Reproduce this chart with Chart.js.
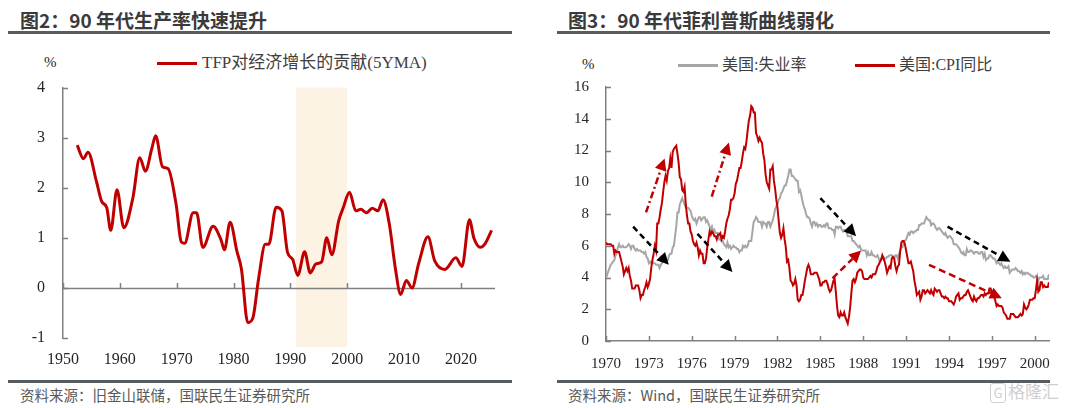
<!DOCTYPE html>
<html>
<head>
<meta charset="utf-8">
<script src="https://cdn.jsdelivr.net/npm/chart.js@4.4.1/dist/chart.umd.min.js"></script>
<style>
    body { margin: 0; width: 1080px; height: 408px; background: #fff; position: relative; overflow: hidden; font-family: "Noto Sans CJK SC", sans-serif; }
    .abs { position: absolute; white-space: nowrap; }
    .title { top: 10px; font-size: 19px; line-height: 19px; font-weight: bold; color: #3a3a3a; }
    .rule { height: 3px; background: #575c61; }
    .source { top: 388px; font-size: 14.5px; line-height: 14.5px; color: #595959; }
    .legend { font-family: "Liberation Serif", "Noto Sans CJK SC", serif; color: #404040; }
    .unit { font-family: "Liberation Serif", serif; font-size: 15px; line-height: 15px; color: #262626; }
    .swatch { height: 2.5px; width: 40px; }
    .mark { top: 382px; left: 990px; color: #cfcfcf; font-size: 17px; line-height: 18px; }
    .mark b { display: inline-block; border: 1.5px solid #cfcfcf; border-radius: 3px; font-weight: normal; width: 14px; text-align: center; margin-right: 2px; font-size: 13px; }
</style>
</head>
<body>
<div class="abs title" style="left:20px">图2：90 年代生产率快速提升</div>
<div class="abs title" style="left:568px">图3：90 年代菲利普斯曲线弱化</div>
<div class="abs rule" style="left:8px;width:504px;top:31px"></div>
<div class="abs rule" style="left:557px;width:493px;top:31px"></div>

<div class="abs unit" style="left:44px;top:55px">%</div>
<div class="abs swatch" style="left:157px;top:62px;background:#c00000"></div>
<div class="abs legend" style="left:202px;top:54px;font-size:17px;line-height:17px">TFP对经济增长的贡献(5YMA)</div>

<div class="abs unit" style="left:582px;top:57px">%</div>
<div class="abs swatch" style="left:678px;top:64px;background:#a6a6a6"></div>
<div class="abs legend" style="left:722px;top:57px;font-size:16px;line-height:16px">美国:失业率</div>
<div class="abs swatch" style="left:855px;top:64px;background:#c00000"></div>
<div class="abs legend" style="left:899px;top:57px;font-size:16px;line-height:16px">美国:CPI同比</div>

<canvas id="tfp-chart" class="abs" style="left:0;top:60px" width="520" height="310"></canvas>
<canvas id="phillips-chart" class="abs" style="left:540px;top:60px" width="540" height="310"></canvas>

<div class="abs rule" style="left:8px;width:504px;top:380px"></div>
<div class="abs rule" style="left:557px;width:493px;top:380px"></div>
<div class="abs source" style="left:20px">资料来源：旧金山联储，国联民生证券研究所</div>
<div class="abs source" style="left:568px">资料来源：Wind，国联民生证券研究所</div>
<div class="abs mark"><b>G</b>格隆汇</div>

<script>
// 图2: TFP contribution to growth, 5-year moving average (%)
const tfpYears = [
    1952.5, 1953.6, 1954.4, 1955.9, 1956.8, 1957.7, 1958.4, 1959.5, 1960.7, 1962.3,
    1963.5, 1964.5, 1965.6, 1966.3, 1967.5, 1968.5, 1969.9, 1970.8, 1971.4, 1972.9,
    1973.5, 1974.6, 1976.4, 1977.8, 1978.4, 1979.4, 1980.6, 1981.4, 1982.5, 1983.4,
    1984.4, 1985.6, 1986.2, 1987.5, 1988.5, 1989.5, 1990.4, 1991.3, 1992.5, 1993.5,
    1994.5, 1995.5, 1996.4, 1997.3, 1998.5, 1999.3, 2000.4, 2001.5, 2002.4, 2003.4,
    2004.4, 2005.4, 2006.3, 2007.4, 2008.5, 2009.4, 2010.4, 2011.4, 2012.6, 2014.2,
    2015.4, 2017.2, 2019.1, 2020.2, 2021.5, 2022.3, 2023.4, 2024.3, 2025.4,
];
const tfpValues = [
    2.85, 2.58, 2.71, 2.12, 1.73, 1.6, 1.15, 1.96, 1.2, 1.8,
    2.6, 2.33, 2.77, 3.04, 2.42, 2.38, 1.67, 0.92, 0.89, 1.5,
    1.5, 0.81, 1.23, 0.96, 0.76, 1.31, 0.73, 0.37, -0.69, -0.6,
    0.18, 0.87, 0.87, 1.61, 1.54, 0.71, 0.57, 0.25, 0.72, 0.3,
    0.48, 0.52, 1.0, 0.66, 1.34, 1.6, 1.91, 1.54, 1.57, 1.5,
    1.59, 1.54, 1.76, 1.28, 0.37, -0.13, 0.15, 0.0, 0.5, 1.02,
    0.54, 0.37, 0.6, 0.43, 1.36, 0.99, 0.81, 0.89, 1.15,
];
const tfpTickYears = [1950, 1960, 1970, 1980, 1990, 2000, 2010, 2020];
const tfpBand = [1991, 2000];

// 图3: US unemployment rate and CPI yoy (%), monthly from Jan 1970
const phillipsStart = 1970;
const unemploymentRate = [
    3.9, 4.2, 4.4, 4.6, 4.8, 4.9, 5.0, 5.1, 5.4, 5.5, 5.9, 6.1,
    5.9, 5.9, 6.0, 5.9, 5.9, 5.9, 6.0, 6.1, 6.0, 5.8, 6.0, 6.0,
    5.8, 5.7, 5.8, 5.7, 5.7, 5.7, 5.6, 5.6, 5.5, 5.6, 5.3, 5.2,
    4.9, 5.0, 4.9, 5.0, 4.9, 4.9, 4.8, 4.8, 4.8, 4.6, 4.8, 4.9,
    5.1, 5.2, 5.1, 5.1, 5.1, 5.4, 5.5, 5.5, 5.9, 6.0, 6.6, 7.2,
    8.1, 8.1, 8.6, 8.8, 9.0, 8.8, 8.6, 8.4, 8.4, 8.4, 8.3, 8.2,
    7.9, 7.7, 7.6, 7.7, 7.4, 7.6, 7.8, 7.8, 7.6, 7.7, 7.8, 7.8,
    7.5, 7.6, 7.4, 7.2, 7.0, 7.2, 6.9, 7.0, 6.8, 6.8, 6.8, 6.4,
    6.4, 6.3, 6.3, 6.1, 6.0, 5.9, 6.2, 5.9, 6.0, 5.8, 5.9, 6.0,
    5.9, 5.9, 5.8, 5.8, 5.6, 5.7, 5.7, 6.0, 5.9, 6.0, 5.9, 6.0,
    6.3, 6.3, 6.3, 6.9, 7.5, 7.6, 7.8, 7.7, 7.5, 7.5, 7.5, 7.2,
    7.5, 7.4, 7.4, 7.2, 7.5, 7.5, 7.2, 7.4, 7.6, 7.9, 8.3, 8.5,
    8.6, 8.9, 9.0, 9.3, 9.4, 9.6, 9.8, 9.8, 10.1, 10.4, 10.8, 10.8,
    10.4, 10.4, 10.3, 10.2, 10.1, 10.1, 9.4, 9.5, 9.2, 8.8, 8.5, 8.3,
    8.0, 7.8, 7.8, 7.7, 7.4, 7.2, 7.5, 7.5, 7.3, 7.4, 7.2, 7.3,
    7.3, 7.2, 7.2, 7.3, 7.2, 7.4, 7.4, 7.1, 7.1, 7.1, 7.0, 7.0,
    6.7, 7.2, 7.2, 7.1, 7.2, 7.2, 7.0, 6.9, 7.0, 7.0, 6.9, 6.6,
    6.6, 6.6, 6.6, 6.3, 6.3, 6.2, 6.1, 6.0, 5.9, 6.0, 5.8, 5.7,
    5.7, 5.7, 5.7, 5.4, 5.6, 5.4, 5.4, 5.6, 5.4, 5.4, 5.3, 5.3,
    5.4, 5.2, 5.0, 5.2, 5.2, 5.3, 5.2, 5.2, 5.3, 5.3, 5.4, 5.4,
    5.4, 5.3, 5.2, 5.4, 5.4, 5.2, 5.5, 5.7, 5.9, 5.9, 6.2, 6.3,
    6.4, 6.6, 6.8, 6.7, 6.9, 6.9, 6.8, 6.9, 6.9, 7.0, 7.0, 7.3,
    7.3, 7.4, 7.4, 7.4, 7.6, 7.8, 7.7, 7.6, 7.6, 7.3, 7.4, 7.4,
    7.3, 7.1, 7.0, 7.1, 7.1, 7.0, 6.9, 6.8, 6.7, 6.8, 6.6, 6.5,
    6.6, 6.6, 6.5, 6.4, 6.1, 6.1, 6.1, 6.0, 5.9, 5.8, 5.6, 5.5,
    5.6, 5.4, 5.4, 5.8, 5.6, 5.6, 5.7, 5.7, 5.6, 5.5, 5.6, 5.6,
    5.6, 5.5, 5.5, 5.6, 5.6, 5.3, 5.5, 5.1, 5.2, 5.2, 5.4, 5.4,
    5.3, 5.2, 5.2, 5.1, 4.9, 5.0, 4.9, 4.8, 4.9, 4.7, 4.6, 4.7,
    4.6, 4.6, 4.7, 4.3, 4.4, 4.5, 4.5, 4.5, 4.6, 4.5, 4.4, 4.4,
    4.3, 4.4, 4.2, 4.3, 4.2, 4.3, 4.3, 4.2, 4.2, 4.1, 4.1, 4.0,
    4.0, 4.1, 4.0, 3.8, 4.0, 4.0, 4.0, 4.1, 3.9, 3.9, 3.9, 3.9,
    4.2,
];
const cpiYoY = [
    6.2, 6.1, 6.1, 6.1, 6.1, 6.0, 6.0, 5.5, 5.7, 5.6, 5.6, 5.6,
    5.3, 5.0, 4.7, 4.2, 4.4, 4.6, 4.4, 4.6, 4.1, 3.8, 3.3, 3.3,
    3.3, 3.5, 3.5, 3.5, 3.2, 2.7, 2.9, 2.9, 3.2, 3.4, 3.7, 3.4,
    3.6, 3.9, 4.6, 5.1, 5.5, 6.0, 5.7, 7.4, 7.4, 7.8, 8.3, 8.7,
    9.4, 10.0, 10.4, 10.1, 10.7, 10.9, 11.5, 10.9, 11.9, 12.1, 12.2, 12.3,
    11.8, 11.2, 10.3, 10.2, 9.5, 9.4, 9.7, 8.6, 7.9, 7.4, 7.4, 6.9,
    6.7, 6.3, 6.1, 6.0, 6.2, 5.9, 5.4, 5.7, 5.5, 5.5, 4.9, 4.9,
    5.2, 5.9, 6.4, 6.9, 6.7, 6.9, 6.8, 6.6, 6.6, 6.4, 6.7, 6.7,
    6.8, 6.4, 6.6, 6.5, 6.9, 7.4, 7.7, 7.9, 8.3, 8.9, 8.9, 9.0,
    9.3, 9.9, 10.1, 10.5, 10.9, 10.9, 11.3, 11.8, 12.2, 12.1, 12.6, 13.3,
    13.9, 14.2, 14.8, 14.7, 14.4, 14.4, 13.1, 12.9, 12.6, 12.8, 12.6, 12.5,
    11.8, 11.4, 10.5, 10.0, 9.8, 9.6, 10.8, 10.8, 11.0, 10.1, 9.6, 8.9,
    8.4, 7.6, 6.8, 6.5, 6.7, 7.1, 6.4, 5.9, 5.0, 5.1, 4.6, 3.8,
    3.7, 3.5, 3.6, 3.9, 3.5, 2.6, 2.5, 2.6, 2.9, 2.9, 3.3, 3.8,
    4.2, 4.6, 4.8, 4.6, 4.2, 4.2, 4.2, 4.3, 4.3, 4.3, 4.1, 3.9,
    3.5, 3.5, 3.7, 3.7, 3.8, 3.8, 3.6, 3.3, 3.1, 3.2, 3.5, 3.8,
    3.9, 3.1, 2.2, 1.6, 1.5, 1.8, 1.6, 1.6, 1.8, 1.5, 1.3, 1.1,
    1.5, 2.1, 3.0, 3.8, 3.9, 3.7, 3.9, 4.3, 4.4, 4.5, 4.5, 4.4,
    4.0, 3.9, 3.9, 3.9, 3.9, 4.0, 4.1, 4.0, 4.2, 4.2, 4.2, 4.4,
    4.7, 4.8, 5.0, 5.1, 5.4, 5.2, 5.0, 4.7, 4.3, 4.5, 4.7, 4.6,
    5.2, 5.3, 5.2, 4.7, 4.4, 4.7, 4.8, 5.6, 6.2, 6.3, 6.3, 6.1,
    5.7, 5.3, 4.9, 4.9, 5.0, 4.7, 4.4, 3.8, 3.4, 2.9, 3.0, 3.1,
    2.6, 2.8, 3.2, 3.2, 3.0, 3.1, 3.2, 3.1, 3.0, 3.2, 3.0, 2.9,
    3.3, 3.2, 3.1, 3.2, 3.2, 3.0, 2.8, 2.8, 2.7, 2.8, 2.7, 2.7,
    2.5, 2.5, 2.5, 2.4, 2.3, 2.5, 2.8, 2.9, 3.0, 2.6, 2.7, 2.7,
    2.8, 2.9, 2.9, 3.1, 3.2, 3.0, 2.8, 2.6, 2.5, 2.8, 2.6, 2.5,
    2.7, 2.7, 2.8, 2.9, 2.9, 2.8, 3.0, 2.9, 3.0, 3.0, 3.3, 3.3,
    3.0, 3.0, 2.8, 2.5, 2.2, 2.3, 2.2, 2.2, 2.2, 2.1, 1.8, 1.7,
    1.6, 1.4, 1.4, 1.4, 1.7, 1.7, 1.7, 1.6, 1.5, 1.5, 1.5, 1.6,
    1.7, 1.6, 1.7, 2.3, 2.1, 2.0, 2.1, 2.3, 2.6, 2.6, 2.6, 2.7,
    2.7, 3.2, 3.8, 3.1, 3.2, 3.7, 3.7, 3.4, 3.5, 3.4, 3.4, 3.4,
    3.7,
];
const phillipsTickYears = [1970, 1973, 1976, 1979, 1982, 1985, 1988, 1991, 1994, 1997, 2000];

// annotation arrows in data units: [fromYear, fromValue, toYear, toValue]
const blackArrows = [
    [1971.9, 7.2, 1974.4, 4.8],
    [1976.4, 6.75, 1978.85, 4.35],
    [1985.0, 9.0, 1987.5, 6.6],
    [1993.9, 7.2, 1998.3, 5.0],
];
const redArrows = [
    [1972.8, 8.1, 1974.1, 11.5],
    [1977.4, 9.1, 1978.6, 12.5],
    [1985.85, 3.95, 1987.85, 5.7],
    [1992.6, 4.8, 1997.7, 2.7],
];

const RED = '#c00000';
const GREY = '#a6a6a6';
const AXIS = '#808080';
const INK = '#262626';

Chart.defaults.animation = false;
Chart.defaults.font.family = "'Liberation Serif', serif";
Chart.defaults.color = INK;

function fixedTicks(values) {
    return (scale) => {
        scale.ticks = values.map((value) => ({ value }));
    };
}

function drawInnerTicks(chart, xLineValue, length) {
    const { ctx, chartArea, scales } = chart;
    const baseY = xLineValue === null ? chartArea.bottom : scales.y.getPixelForValue(xLineValue);
    ctx.save();
    ctx.strokeStyle = AXIS;
    ctx.lineWidth = 1.5;
    ctx.beginPath();
    scales.x.ticks.forEach((tick) => {
        const x = Math.round(scales.x.getPixelForValue(tick.value)) + 0.5;
        ctx.moveTo(x, baseY);
        ctx.lineTo(x, baseY - length);
    });
    scales.y.ticks.forEach((tick) => {
        const y = Math.round(scales.y.getPixelForValue(tick.value)) + 0.5;
        ctx.moveTo(chartArea.left, y);
        ctx.lineTo(chartArea.left + length, y);
    });
    ctx.stroke();
    ctx.restore();
}

const tfpDecor = {
    id: 'tfpDecor',
    beforeDatasetsDraw(chart) {
        const { ctx, chartArea, scales } = chart;
        const x0 = scales.x.getPixelForValue(tfpBand[0]);
        const x1 = scales.x.getPixelForValue(tfpBand[1]);
        const top = scales.y.getPixelForValue(4);
        ctx.save();
        ctx.fillStyle = '#fdf3e4';
        ctx.fillRect(x0, top, x1 - x0, chartArea.bottom + 9 - top);
        const zero = Math.round(scales.y.getPixelForValue(0)) + 0.5;
        ctx.strokeStyle = AXIS;
        ctx.lineWidth = 1.5;
        ctx.beginPath();
        ctx.moveTo(chartArea.left, zero);
        ctx.lineTo(chartArea.right, zero);
        ctx.stroke();
        ctx.restore();
        drawInnerTicks(chart, 0, 5);
    },
};

function drawArrow(ctx, from, to, color, dash) {
    const angle = Math.atan2(to[1] - from[1], to[0] - from[0]);
    const head = 12;
    const back = [to[0] - head * Math.cos(angle), to[1] - head * Math.sin(angle)];
    ctx.save();
    ctx.strokeStyle = color;
    ctx.fillStyle = color;
    ctx.lineWidth = 2.5;
    ctx.setLineDash(dash);
    ctx.beginPath();
    ctx.moveTo(from[0], from[1]);
    ctx.lineTo(back[0], back[1]);
    ctx.stroke();
    ctx.setLineDash([]);
    ctx.beginPath();
    ctx.moveTo(to[0], to[1]);
    ctx.lineTo(back[0] + 6 * Math.sin(angle), back[1] - 6 * Math.cos(angle));
    ctx.lineTo(back[0] - 6 * Math.sin(angle), back[1] + 6 * Math.cos(angle));
    ctx.closePath();
    ctx.fill();
    ctx.restore();
}

const phillipsDecor = {
    id: 'phillipsDecor',
    afterDatasetsDraw(chart) {
        const { ctx, scales } = chart;
        const toPx = (a) => [
            [scales.x.getPixelForValue(a[0]), scales.y.getPixelForValue(a[1])],
            [scales.x.getPixelForValue(a[2]), scales.y.getPixelForValue(a[3])],
        ];
        blackArrows.forEach((a) => {
            const [from, to] = toPx(a);
            drawArrow(ctx, from, to, '#000', [6, 4]);
        });
        redArrows.forEach((a, i) => {
            const [from, to] = toPx(a);
            drawArrow(ctx, from, to, RED, i < 2 ? [7, 3, 2, 3] : [7, 4]);
        });
        drawInnerTicks(chart, null, 5);
    },
};

new Chart(document.getElementById('tfp-chart'), {
    type: 'line',
    data: {
        datasets: [{
            label: 'TFP对经济增长的贡献(5YMA)',
            data: tfpYears.map((year, i) => ({ x: year, y: tfpValues[i] })),
            borderColor: RED,
            borderWidth: 3,
            pointRadius: 0,
            cubicInterpolationMode: 'monotone',
        }],
    },
    options: {
        responsive: false,
        devicePixelRatio: 1,
        layout: { padding: { top: 20, right: 25, left: 0, bottom: 0 } },
        plugins: { legend: { display: false }, tooltip: { enabled: false } },
        scales: {
            x: {
                type: 'linear',
                min: 1950,
                max: 2026,
                afterBuildTicks: fixedTicks(tfpTickYears),
                afterFit: (scale) => { scale.height = 32; },
                grid: { display: false, drawTicks: false },
                border: { display: false },
                ticks: { padding: 12, font: { size: 16 }, callback: (v) => String(v) },
            },
            y: {
                min: -1,
                max: 4,
                afterFit: (scale) => { scale.width = 63; },
                grid: { display: false, drawTicks: false },
                border: { display: true, color: AXIS, width: 1.5 },
                ticks: { stepSize: 1, padding: 18, font: { size: 16 } },
            },
        },
    },
    plugins: [tfpDecor],
});

const monthX = (i) => phillipsStart + i / 12;

new Chart(document.getElementById('phillips-chart'), {
    type: 'line',
    data: {
        datasets: [
            {
                label: '美国:失业率',
                data: unemploymentRate.map((v, i) => ({ x: monthX(i), y: v })),
                borderColor: GREY,
                borderWidth: 2,
                pointRadius: 0,
                order: 1,
            },
            {
                label: '美国:CPI同比',
                data: cpiYoY.map((v, i) => ({ x: monthX(i), y: v })),
                borderColor: RED,
                borderWidth: 2,
                pointRadius: 0,
                order: 0,
            },
        ],
    },
    options: {
        responsive: false,
        devicePixelRatio: 1,
        layout: { padding: { top: 27, right: 31, left: 0, bottom: 0 } },
        plugins: { legend: { display: false }, tooltip: { enabled: false } },
        scales: {
            x: {
                type: 'linear',
                min: 1970,
                max: 2001,
                afterBuildTicks: fixedTicks(phillipsTickYears),
                afterFit: (scale) => { scale.height = 29; },
                grid: { display: false, drawTicks: false },
                border: { display: true, color: AXIS, width: 1.5 },
                ticks: { padding: 14, font: { size: 15 }, callback: (v) => String(v) },
            },
            y: {
                min: 0,
                max: 16,
                afterFit: (scale) => { scale.width = 66; },
                grid: { display: false, drawTicks: false },
                border: { display: true, color: AXIS, width: 1.5 },
                ticks: { stepSize: 2, padding: 17, font: { size: 15 } },
            },
        },
    },
    plugins: [phillipsDecor],
});
</script>
</body>
</html>
